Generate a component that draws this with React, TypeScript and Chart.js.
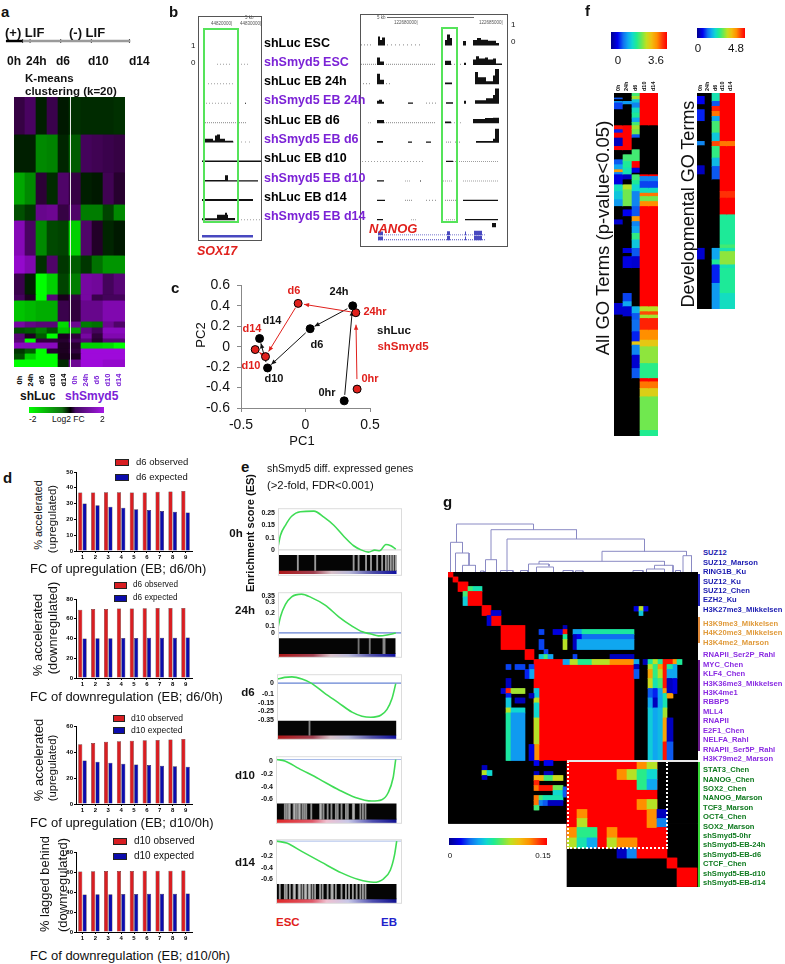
import React, { useEffect, useRef } from "react";
import { Chart, registerables } from "chart.js";
Chart.register(...registerables);

const FONT = '"Liberation Sans", Arial, sans-serif';
Chart.defaults.font.family = FONT;
Chart.defaults.color = "#000";

const BLACK = "#000000";
const PURPLE = "#7b22d6";
const LABEL_RED = "#e0201c";
const BAR_RED = "#d81e22";
const BAR_BLUE = "#0c0cac";

/* ---------- colour scales ---------- */
const JET_STOPS: [number, string][] = [
  [0, "#00008c"], [0.12, "#0000f0"], [0.22, "#1070f0"], [0.3, "#10a8f0"], [0.38, "#10d8d0"],
  [0.46, "#20ec90"], [0.55, "#70e850"], [0.63, "#c0e020"], [0.72, "#f0c010"], [0.82, "#ff9000"],
  [0.92, "#ff3808"], [1, "#ff0000"],
];
const GREEN_PURPLE_STOPS: [number, string][] = [
  [0, "#00ff00"], [0.44, "#107010"], [0.55, "#000000"], [0.62, "#400a60"], [1, "#a818e8"],
];
const RANK_STOPS: [number, string][] = [
  [0, "#b01818"], [0.3, "#a04050"], [0.45, "#d8c0c8"], [0.6, "#b8b8d8"], [0.8, "#5050a8"], [1, "#1010a0"],
];
const RANK_STOPS_LATE: [number, string][] = [
  [0, "#e02828"], [0.3, "#e05868"], [0.42, "#f0c0d0"], [0.6, "#c8c8e8"], [0.8, "#5050b0"], [1, "#101090"],
];
function hex(c: string) {
  return [1, 3, 5].map((i) => parseInt(c.slice(i, i + 2), 16));
}
function ramp(stops: [number, string][], t: number) {
  const v = Math.max(0, Math.min(1, t));
  for (let i = 1; i < stops.length; i++) {
    if (v <= stops[i][0]) {
      const [t0, c0] = stops[i - 1];
      const [t1, c1] = stops[i];
      const f = (v - t0) / (t1 - t0);
      const a = hex(c0), b = hex(c1);
      return `rgb(${a.map((x, k) => Math.round(x + (b[k] - x) * f)).join(",")})`;
    }
  }
  return stops[stops.length - 1][1];
}
const jet = (t: number | null) => (t === null ? BLACK : ramp(JET_STOPS, t));
function log2Colour(v: number) {
  if (v < 0) {
    const m = Math.min(1, -v / 2);
    return `rgb(0,${Math.round(20 + 235 * m)},0)`;
  }
  const m = Math.min(1, v / 1.5);
  return `rgb(${Math.round(20 + 148 * m)},${Math.round(20 * m * 0.6)},${Math.round(20 + 212 * m)})`;
}

/* ---------- panel a ---------- */
const timelineDark = [1, 19];
const timelineGrey = [19, 135];
const timelineStops = [19, 27, 60, 93, 134];
const aBandEnds = [38, 76, 108, 124, 159, 177, 198, 204, 225, 231, 237, 242, 246, 252, 257, 263, 270];
const aValues = [
  [0.35, 0.55, -0.1, 0.4, -0.05, -0.25, -0.2, -0.2, -0.2, -0.25],
  [-0.1, -0.1, -1.0, -0.95, -0.15, -0.6, 0.5, 0.45, 0.4, 0.35],
  [-1.25, -1.0, 0.25, -0.2, 0.6, 0.35, -0.1, -0.05, 0.45, 0.2],
  [-0.5, -0.3, 0.85, 0.9, 0.35, 0.6, -0.9, -0.9, -0.4, -1.0],
  [1.15, 0.55, -1.0, -0.45, -0.4, -1.6, 0.6, 0.15, -0.15, -0.05],
  [1.3, 1.1, -0.25, 0.6, -0.3, -0.6, -0.3, -0.8, -1.1, -1.1],
  [0.4, -0.1, -2, -1.6, -0.4, -0.9, 1.0, 0.95, 0.5, 0.7],
  [0.5, 0.1, -2, 0.7, 0.05, 0.35, 1.0, 0.4, 0.5, 0.5],
  [-1.5, -1.4, -1.3, -1.3, 0.4, 0.3, 0.85, 0.85, 1.1, 1.1],
  [1.0, 0.8, 0.7, 0.7, -1.7, 0.9, -0.9, -0.8, 0.9, 0.6],
  [-0.5, -0.6, -0.9, -0.5, -1.5, -1.2, 0.8, 0.5, 1.2, 1.2],
  [0.7, 0.1, -0.6, -2, 0.1, 0.3, 1, 0.3, 1.1, 1.1],
  [0.7, -2, 0.3, 0.3, 0.2, 0.5, 0.7, 0.2, 0.7, 0.7],
  [1.2, 1.2, 1.2, 1.2, 0.1, 0.2, -1.6, -1.6, -1.7, -2],
  [-0.3, -0.6, -2, 0.2, 0.1, 0.3, 1.4, 1.4, 1.4, 1.4],
  [-0.5, -1.6, -2, -2, 0.05, 0.1, 1.4, 1.4, 1.4, 1.4],
  [-2, -2, -2, -2, -0.2, 0.9, 1.4, 1.4, 1.3, 1.3],
];

/* ---------- panel b: [fromBin, toBin, signal, dashStep?] per track ---------- */
type Seg = number[];
const sox17Tracks: Seg[][] = [
  [],
  [[19, 34, 0.04, 3], [40, 52, 0.04, 3]],
  [[10, 35, 0.04, 3]],
  [[5, 35, 0.04, 3], [47, 48, 0.04]],
  [[5, 49, 0.05, 2]],
  [[5, 15, 0.2], [15, 17, 0.1], [17, 19, 0.4], [19, 22, 0.45], [22, 27, 0.2], [27, 35, 0.08], [35, 55, 0.04, 4]],
  [[4, 63, 0.06]],
  [[5, 27, 0.07], [27, 30, 0.35], [30, 60, 0.05]],
  [[4, 55, 0.09]],
  [[4, 19, 0.1], [19, 27, 0.3], [27, 29, 0.42], [29, 30, 0.3], [30, 37, 0.12], [40, 62, 0.04, 3]],
];
const nanogTracks: Seg[][] = [
  [[1, 13, 0.05, 3], [18, 20, 0.5], [20, 22, 0.3], [22, 25, 0.45], [27, 63, 0.05, 4], [85, 87, 0.3], [87, 90, 0.62], [90, 92, 0.42], [103, 106, 0.24], [113, 117, 0.3], [117, 121, 0.42], [121, 128, 0.32], [128, 136, 0.25], [136, 139, 0.12]],
  [[1, 17, 0.05, 2], [17, 20, 0.42], [20, 24, 0.18], [26, 76, 0.05, 2], [85, 91, 0.22], [91, 103, 0.04, 3], [104, 106, 0.1], [113, 116, 0.3], [116, 119, 0.48], [119, 125, 0.35], [125, 128, 0.42], [128, 133, 0.3], [133, 136, 0.35], [136, 142, 0.06]],
  [[3, 10, 0.05, 3], [17, 20, 0.6], [20, 24, 0.25], [26, 30, 0.05, 3], [85, 92, 0.08], [115, 118, 0.7], [118, 126, 0.4], [126, 133, 0.16], [133, 135, 0.5], [135, 139, 0.88]],
  [[17, 19, 0.15], [19, 22, 0.22], [22, 24, 0.1], [48, 53, 0.05], [66, 76, 0.05, 3], [86, 93, 0.06], [104, 106, 0.16], [115, 126, 0.18], [126, 133, 0.3], [133, 135, 0.5], [135, 139, 0.88]],
  [[8, 12, 0.04, 2], [17, 24, 0.16], [24, 76, 0.05, 2], [85, 91, 0.08], [91, 103, 0.04, 3], [113, 125, 0.22], [125, 133, 0.28], [133, 139, 0.3]],
  [[17, 23, 0.07], [48, 52, 0.05], [66, 71, 0.05], [86, 91, 0.04, 2], [95, 100, 0.04, 2], [116, 133, 0.07], [133, 135, 0.2], [135, 139, 0.8]],
  [[2, 63, 0.04, 3], [86, 93, 0.05], [93, 138, 0.04, 2]],
  [[17, 24, 0.05], [45, 50, 0.04, 2], [60, 61, 0.04], [83, 93, 0.04, 2], [103, 138, 0.04, 2]],
  [[17, 25, 0.05], [45, 53, 0.04, 2], [66, 76, 0.04, 3], [85, 96, 0.04, 2], [103, 138, 0.05]],
  [[17, 23, 0.05], [51, 56, 0.04, 2], [86, 96, 0.04, 2], [105, 138, 0.05]],
];
const sox17Gene: Seg[] = [[4, 55, 0.12]];
const nanogGene: Seg[] = [[18, 125, 0.03, 2], [18, 23, 0.2], [87, 90, 0.22], [105, 106, 0.2], [114, 122, 0.24]];
const nanogMark: Seg[] = [[132, 136, 0.22]];

/* ---------- panel c ---------- */
const luc = [
  { x: 0.3, y: -0.53 }, { x: 0.366, y: 0.4 }, { x: 0.036, y: 0.176 }, { x: -0.294, y: -0.208 }, { x: -0.356, y: 0.08 },
];
const smyd = [
  { x: 0.4, y: -0.415 }, { x: 0.39, y: 0.333 }, { x: -0.057, y: 0.424 }, { x: -0.31, y: -0.097 }, { x: -0.39, y: -0.028 },
];

/* ---------- panel d ---------- */
const fcBins = ["1", "2", "3", "4", "5", "6", "7", "8", "9"];
const d6UpObserved = [37, 37, 37.2, 37.2, 37, 37, 37.5, 37.7, 38];
const d6UpExpected = [30, 29, 28, 27.3, 26.5, 26, 25.3, 24.8, 24.3];
const d6DownObserved = [69, 70, 70, 70.5, 70.5, 70.7, 71, 71, 71];
const d6DownExpected = [40, 40.3, 40.3, 40.5, 40.5, 40.7, 40.7, 40.8, 41];
const d10UpObserved = [46, 47, 47.8, 48.3, 48.7, 49, 49.3, 49.7, 50];
const d10UpExpected = [33.5, 32.5, 31.7, 31, 30.4, 30, 29.5, 29, 28.6];
const d10DownObserved = [60.5, 60.7, 61, 61, 61, 61.2, 61.2, 61.2, 61.5];
const d10DownExpected = [37.5, 37.7, 37.8, 38, 38, 38.2, 38.2, 38.3, 38.5];

/* ---------- panel e ---------- */
const es0hRank = [0, 2, 6, 11, 18, 29, 37, 45, 53, 61, 67, 73, 78, 82, 87, 91, 95];
const es0h = [0.02, 0.1, 0.167, 0.228, 0.259, 0.263, 0.222, 0.167, 0.093, 0.028, 0, -0.015, -0.002, -0.006, 0.037, 0.028, 0.006];
const es24hRank = [0, 2, 6, 11, 19, 27, 38, 49, 60, 68, 75, 81, 88, 95];
const es24h = [0.049, 0.152, 0.268, 0.34, 0.365, 0.332, 0.262, 0.152, 0.062, 0.01, -0.01, -0.028, -0.02, 0];
const esD6Rank = [0.5, 6, 12, 20, 28, 38, 49, 60, 68, 75, 83, 88, 92, 95];
const esD6 = [0.038, 0.054, 0.059, 0.038, -0.005, -0.095, -0.184, -0.274, -0.312, -0.322, -0.304, -0.248, -0.146, -0.005];
const esD10Rank = [0.5, 7, 18, 34, 50, 63, 76, 84, 89, 93, 95];
const esD10 = [0, -0.021, -0.134, -0.294, -0.462, -0.576, -0.63, -0.609, -0.504, -0.273, 0];
const esD14Rank = [0.5, 8.5, 20.4, 36, 52, 65.5, 77.5, 85.4, 90.7, 94, 95.8];
const esD14 = [0, -0.03, -0.16, -0.328, -0.496, -0.6, -0.643, -0.588, -0.454, -0.223, 0];
const hits0h = [16, 30, 61, 65, 71, 75, 80, 84, 87, 89, 91, 93, 95];
const hits24h = [65, 74, 85, 86];
const hitsD6 = [26];
const hitsD10 = [7, 8.5, 10, 11, 14, 15, 16.5, 18, 19, 21, 22.5, 24, 28, 35, 36, 37.7, 41, 44, 47.5, 49, 52, 55.5, 57, 61, 62, 67, 69, 71];
const hitsD14 = [3, 7, 8.5, 11, 14, 15, 18, 19, 21, 23, 24, 26, 27, 29, 31, 35, 37, 41, 44, 45, 47.5, 52, 55.5, 58, 61, 64, 67, 69, 71];
const tick0h = [0.25, 0.167, 0.083, 0];
const tick0hText = ["0.25", "0.15", "0.1", "0"];
const tick24h = [0.35, 0.288, 0.19, 0.069, 0];
const tick24hText = ["0.35", "0.3", "0.2", "0.1", "0"];
const tickD6 = [0, -0.1, -0.184, -0.266, -0.35];
const tickD6Text = ["0", "-0.1", "-0.15", "-0.25", "-0.35"];
const tickD10 = [-0.03, -0.223, -0.412, -0.6];
const tickLateText = ["0", "-0.2", "-0.4", "-0.6"];

/* ---------- panel f: [end row, level] per column, null = no enrichment ---------- */
type Run = [number, number | null];
const allGo0h: Run[] = [[15, null], [20, 0.2], [25, null], [30, 0.28], [50, 0.18], [98, null], [110, 0.98], [120, 0.15], [135, 1], [160, 0.06], [172, 1], [200, null], [215, 0.2], [230, 0.3], [238, 0.8], [245, 0.25], [275, 0.1], [295, 0.4], [320, 0.35], [340, 0.28], [380, null], [395, 0.08], [630, null], [665, 0.08], [1027, null]];
const allGo24h: Run[] = [[25, null], [35, 0.28], [98, null], [172, 1], [185, null], [205, 0.5], [225, 0.45], [245, 0.42], [260, 0.06], [275, null], [290, 0.62], [340, 0.55], [350, null], [370, 0.12], [465, null], [480, 0.1], [490, null], [525, 0.1], [600, null], [625, 0.18], [640, 0.3], [670, 0.08], [1027, null]];
const allGoD6: Run[] = [[10, 0.5], [20, 0.6], [30, 0.35], [45, 0.25], [60, 0.4], [75, 0.45], [88, 0.3], [98, 0.5], [110, 0.6], [125, 0.55], [135, 0.2], [170, null], [205, 0.5], [225, 1], [240, 0.1], [245, null], [262, 0.5], [275, 0.45], [295, 0.38], [340, 0.25], [370, 0.2], [385, 0.8], [400, 0.25], [420, 0.3], [440, 0.48], [465, 0.35], [490, 0.2], [525, 0.08], [640, null], [660, 0.32], [680, 0.2], [715, 0.22], [745, 0.15], [755, 0.7], [785, 0.25], [825, 0.08], [855, 0.2], [1027, null]];
const allGoLate: Run[] = [[98, 1], [245, null], [250, 1], [265, 0.25], [285, 0.18], [300, 0.4], [310, 0.85], [325, 0.55], [340, 0.82], [640, 1], [655, 0.62], [665, 0.9], [675, 0.6], [710, 0.95], [740, 0.82], [760, 0.7], [810, 0.58], [855, 0.47], [865, 1], [885, 0.85], [910, 0.68], [1010, 0.55], [1027, 0.46]];
const devGo0h: Run[] = [[10, null], [35, 0.12], [50, null], [85, 0.15], [145, null], [158, 0.25], [218, null], [245, 0.06], [465, null], [500, 0.08], [647, null]];
const devGo24h: Run[] = [[647, null]];
const devGoD6: Run[] = [[25, 0.42], [40, 0.2], [55, 0.95], [70, 0.85], [85, 0.3], [120, 0.5], [145, 0.35], [160, 0.9], [195, 0.48], [220, 0.33], [260, 0.2], [465, null], [500, 0.3], [515, 0.45], [570, 0.15], [647, 0.28]];
const devGoLate: Run[] = [[145, 1], [160, 0.85], [295, 1], [315, 0.93], [365, 1], [455, 0.45], [465, 0.5], [475, 0.42], [515, 0.58], [525, 0.42], [600, 0.45], [647, 0.4]];

/* ---------- panel g: [col from, col to, row from, row to, level] ---------- */
type GCell = [number, number, number, number, number | null];
const R = 1;
const gCells: GCell[] = [
  [0, 50, 0, 50.3, null], [23.7, 50, 50.3, 63, null],
  [0, 1, 0, 1, R], [1, 2, 1, 2, R], [2, 3.9, 2, 3.9, R],
  [3.9, 4.9, 2.9, 3.9, 0.5], [4.9, 6.7, 2.9, 3.9, 0.42], [2.9, 3.9, 3.9, 5, 0.5], [2.9, 3.9, 5, 6.7, 0.36],
  [3.9, 6.7, 3.9, 6.7, R], [6.7, 8.6, 6.7, 8.7, R], [8.6, 10.5, 8.7, 10.7, R], [8.6, 10.5, 7.7, 8.7, 0.08], [7.7, 8.6, 8.7, 10.7, 0.08],
  [10.5, 15.3, 10.7, 15.5, R], [15.3, 17.1, 15.5, 17.5, R],
  [37.1, 38.2, 6.9, 7.8, 0.1], [39, 40, 6.9, 7.8, 0.1], [38.2, 39, 6.9, 7.8, 0.62], [38.2, 39, 7.8, 8.7, 0.35],
  [18.2, 19.1, 11.5, 12.5, 0.18], [18.2, 19.1, 13.5, 15.5, 0.18], [22.9, 23.8, 10.7, 11.5, 0.05], [21, 22.9, 11.5, 12.5, 0.1], [22.9, 23.8, 11.5, 12.5, 0.97],
  [22.9, 23.8, 12.5, 13.5, 0.45], [22.9, 23.8, 13.5, 15.5, 0.62], [24.9, 26.7, 11.5, 12.5, 0.3], [26.7, 37.1, 11.5, 12.5, 0.44],
  [24.9, 25.7, 12.5, 15.5, 0.06], [25.7, 26.7, 12.5, 13.5, 0.12], [25.7, 26.7, 13.5, 15.5, 0.3], [26.7, 37.1, 12.5, 13.5, 0.22], [26.7, 37.1, 13.5, 15.5, 0.3],
  [19.1, 20, 15.5, 16.5, 0.18], [18.2, 19.1, 16.5, 17.5, 0.35], [19.1, 20, 16.5, 17.5, 0.5], [20, 21, 16.5, 17.5, 0.3], [24.9, 25.7, 16.5, 17.5, 0.18], [32.3, 37.1, 16.5, 17.5, 0.06],
  [17.1, 37.1, 17.5, 37.7, R],
  [23, 24.3, 17.5, 18.5, 0.3], [24.3, 26, 17.5, 18.5, 0.62], [26, 28.7, 17.5, 18.5, 0.46], [28.7, 32.3, 17.5, 18.5, 0.62], [32.3, 37.1, 17.5, 18.5, 0.82],
  [17.1, 18.2, 23.3, 25.2, 0.35], [17.1, 18.2, 25.2, 26.2, 0.62], [17.1, 18.2, 26.2, 29.2, 0.38], [17.1, 18.2, 29.2, 34.5, 0.62], [17.1, 18.2, 34.5, 37.7, 0.82],
  [16.2, 17.1, 18.5, 19.5, 0.18], [16.2, 17.1, 19.5, 21.3, 0.3], [15.3, 16.2, 19.5, 21.3, 0.15], [16.2, 17.1, 24.3, 25.2, 0.05], [16.2, 17.1, 34.5, 37.7, 0.1],
  [11.5, 12.5, 18.5, 19.5, 0.18], [13.3, 15.3, 18.5, 19.5, 0.18], [11.5, 12.5, 21.3, 23.3, 0.06], [10.5, 11.5, 23.3, 24.3, 0.08], [11.5, 12.5, 23.3, 24.3, 0.95], [12.5, 15.3, 23.3, 24.3, 0.6],
  [11.5, 12.5, 24.3, 25.2, 0.15], [11.5, 12.5, 25.2, 27.2, 0.35], [11.5, 12.5, 27.2, 28.2, 0.62], [11.5, 12.5, 28.2, 37.7, 0.44], [13.3, 15.3, 25.2, 26.2, 0.06], [12.5, 15.3, 27.2, 28.2, 0.38], [12.5, 15.3, 28.2, 37.7, 0.28],
  [37.1, 38.2, 17.5, 18.5, 0.3], [39, 40, 17.5, 18.5, 0.05], [40, 41, 17.5, 18.5, 0.45], [41, 42, 17.5, 18.5, 0.62], [42, 43, 17.5, 18.5, 0.45], [43, 44.9, 17.5, 18.5, 0.97], [44.9, 45.7, 17.5, 18.5, 0.8], [45.7, 46.7, 17.5, 18.5, 0.45],
  [37.1, 38.2, 18.5, 19.5, 0.06], [37.1, 38.2, 19.5, 21.3, 0.2],
  [40, 41, 18.5, 19.5, 0.62], [40, 41, 19.5, 21.3, 0.78], [40, 41, 21.3, 23.3, 0.65], [40, 41, 23.3, 25.2, 0.2], [40, 41, 25.2, 27.2, 0.3], [40, 41, 27.2, 37.7, 0.36],
  [41, 42, 18.5, 21.3, 0.48], [41, 42, 21.3, 23.3, 0.42], [41, 42, 23.3, 25.2, 0.15], [41, 42, 25.2, 27.2, 0.06], [41, 42, 27.2, 37.7, 0.3],
  [42, 43, 18.5, 19.5, 0.8], [42, 43, 19.5, 21.3, 0.62], [42, 43, 21.3, 23.3, 0.5], [42, 43, 23.3, 27.2, 0.3], [42, 43, 27.2, 37.7, 0.33],
  [43, 43.8, 18.5, 23.3, 0.97], [43, 43.8, 23.3, 24.3, 0.8], [43, 43.8, 24.3, 27.2, 0.42], [43, 43.8, 27.2, 29.2, 0.6], [43, 43.8, 29.2, 34, 0.78], [43, 43.8, 34, 37.7, 0.97],
  [43.8, 44.9, 18.5, 19.5, 0.45], [43.8, 44.9, 19.5, 21.3, 0.3], [43.8, 44.9, 21.3, 24.3, 0.06], [43.8, 44.9, 24.3, 25.2, 0.8], [43.8, 44.9, 29.2, 34, 0.06], [43.8, 44.9, 34, 37.7, 0.2],
  [44.9, 45.7, 18.5, 21.3, 0.3], [44.9, 45.7, 21.3, 24.3, 0.1],
  [6.7, 7.7, 38.7, 39.7, 0.06], [6.7, 7.7, 39.7, 40.7, 0.62], [7.7, 8.7, 39.7, 40.7, 0.38], [6.7, 7.7, 40.7, 41.5, 0.06],
  [17.1, 18.2, 37.7, 38.7, 0.12], [19.1, 20.9, 37.7, 38.7, 0.12], [17.1, 18.2, 39.9, 40.7, 0.06], [19.1, 20.9, 39.9, 40.7, 0.06],
  [17.1, 19.1, 40.7, 41.7, 0.75], [19.1, 21, 40.7, 41.7, 0.5], [21, 23, 40.7, 41.7, 0.65],
  [17.1, 18.2, 41.7, 42.7, 0.95],
  [17.1, 18.2, 42.7, 43.7, 0.85], [18.2, 21, 42.7, 43.7, 0.97], [21, 23, 42.7, 43.7, 0.55], [21, 23, 43.7, 44.7, 0.38],
  [17.1, 18.2, 44.7, 45.7, 0.85], [18.2, 19, 44.7, 45.7, 0.5], [19, 23, 44.7, 45.7, 0.42],
  [17.1, 18.2, 45.7, 46.7, 0.85], [18.2, 19, 45.7, 46.7, 0.25], [19, 20, 45.7, 46.7, 0.2], [20, 23, 45.7, 46.7, 0.06], [17.1, 18.2, 46.7, 47.6, 0.5], [23, 23.7, 43, 45, 0.2],
  [23.7, 41.7, 37.7, 55.2, R],
  [37.7, 39.7, 37.7, 39.5, 0.82], [39.7, 41.7, 37.7, 39.5, 0.62],
  [33.7, 35.7, 39.5, 41.5, 0.82], [35.7, 37.7, 39.5, 41.5, 0.62], [37.7, 39.7, 39.5, 43.5, 0.47], [39.7, 41.7, 39.5, 41.5, 0.38], [39.7, 41.7, 41.5, 43.5, 0.3],
  [37.7, 39.7, 45.5, 47.5, 0.82], [39.7, 41.7, 45.5, 47.5, 0.62], [39.7, 41.7, 47.5, 51.1, 0.82],
  [41.7, 43.7, 47.5, 49.3, 0.06], [41.7, 43.7, 49.3, 51.1, 0.25], [41.7, 43.7, 51.1, 55.2, R],
  [25.7, 27.7, 47.5, 49.3, 0.82], [25.7, 27.7, 49.3, 51.1, 0.62],
  [23.7, 25.7, 51.1, 53.2, 0.82], [25.7, 29.7, 51.1, 53.2, 0.47], [31.7, 33.7, 51.1, 53.2, 0.82],
  [23.7, 25.7, 53.2, 55.2, 0.62], [25.7, 27.7, 53.2, 55.2, 0.42], [27.7, 29.7, 53.2, 55.2, 0.3], [31.7, 33.7, 53.2, 55.2, 0.62], [33.7, 37.7, 53.2, 55.2, 0.82],
  [33.7, 35.7, 55.2, 57.2, 0.06], [35.7, 37.7, 55.2, 57.2, 0.25], [37.7, 43.7, 55.2, 57.2, R],
  [43.7, 45.7, 57.2, 59.2, R], [45.7, 49.7, 59.2, 62.9, R],
];
const dendroBranches: number[][][] = [
  [[1.7, 29.7], [1.7, 48], [17.1, 48], [17.1, 42.3]],
  [[0.5, 0], [0.5, 29.7], [2.9, 29.7], [2.9, 19]],
  [[1.5, 0], [1.5, 19], [4.2, 19], [4.2, 6.7]],
  [[2.9, 0], [2.9, 6.7], [5.5, 6.7], [5.5, 0]],
  [[8.6, 12.3], [8.6, 42.3], [25.7, 42.3], [25.7, 33]],
  [[7.5, 0], [7.5, 12.3], [9.7, 12.3], [9.7, 0]],
  [[11.8, 0], [11.8, 33], [39.3, 33], [39.3, 20.7]],
  [[30.8, 10.7], [30.8, 20.7], [47.7, 20.7], [47.7, 16.3]],
  [[47, 0], [47, 16.3], [48.7, 16.3], [48.7, 0]],
  [[16.1, 0], [16.1, 8], [20.2, 8], [20.2, 5.7]],
  [[18.2, 8], [18.2, 10.7], [43.3, 10.7], [43.3, 6.7]],
  [[17.7, 0], [17.7, 5], [21.1, 5], [21.1, 0]],
  [[39.7, 0], [39.7, 3], [43.3, 3], [43.3, 0]],
  [[41.3, 3], [41.3, 6.7], [45, 6.7], [45, 0]],
  [[10.5, 0], [10.5, 1.5], [13, 1.5], [13, 0]],
  [[14.5, 0], [14.5, 1.5], [16, 1.5], [16, 0]],
  [[23, 0], [23, 1.5], [25, 1.5], [25, 0]],
  [[25.5, 0], [25.5, 1.2], [27, 1.2], [27, 0]],
  [[37, 0], [37, 1.5], [39, 1.5], [39, 0]],
  [[45.5, 0], [45.5, 1.5], [46.5, 1.5], [46.5, 0]],
  [[6.5, 0], [6.5, 1], [7.2, 1], [7.2, 0]],
];

/* ---------- text ---------- */
type L = { t: string; x: number; y: number; s: number; b?: boolean; i?: boolean; c?: string; a?: "l" | "c" | "r" | "v" | "vb" };
const panelLetters: L[] = [
  { t: "a", x: 1, y: 11, s: 15, b: true }, { t: "b", x: 169, y: 11, s: 15, b: true }, { t: "c", x: 171, y: 287, s: 15, b: true },
  { t: "d", x: 3, y: 477, s: 15, b: true }, { t: "e", x: 241, y: 466, s: 15, b: true }, { t: "f", x: 585, y: 10, s: 15, b: true }, { t: "g", x: 443, y: 501, s: 15, b: true },
];
const aLabels: L[] = [
  { t: "(+) LIF", x: 5, y: 32, s: 13, b: true }, { t: "(-) LIF", x: 69, y: 32, s: 13, b: true },
  { t: "0h", x: 7, y: 61, s: 12, b: true }, { t: "24h", x: 26, y: 61, s: 12, b: true }, { t: "d6", x: 56, y: 61, s: 12, b: true }, { t: "d10", x: 88, y: 61, s: 12, b: true }, { t: "d14", x: 129, y: 61, s: 12, b: true },
  { t: "K-means", x: 25, y: 79, s: 11.5, b: true }, { t: "clustering (k=20)", x: 25, y: 92, s: 11.5, b: true },
  { t: "shLuc", x: 20, y: 396, s: 12, b: true }, { t: "shSmyd5", x: 65, y: 396, s: 12, b: true, c: PURPLE },
  { t: "-2", x: 29, y: 419, s: 8.5 }, { t: "Log2 FC", x: 52, y: 419, s: 8.5 }, { t: "2", x: 100, y: 419, s: 8.5 },
  ...["0h", "24h", "d6", "d10", "d14", "0h", "24h", "d6", "d10", "d14"].map((t, i): L => ({ t, x: 19.5 + i * 11.1, y: 380, s: 7.5, b: true, a: "v", c: i < 5 ? BLACK : PURPLE })),
];
const trackNames = ["shLuc ESC", "shSmyd5 ESC", "shLuc EB 24h", "shSmyd5 EB 24h", "shLuc EB d6", "shSmyd5 EB d6", "shLuc EB d10", "shSmyd5 EB d10", "shLuc EB d14", "shSmyd5 EB d14"];
const bLabels: L[] = [
  ...trackNames.map((t, i): L => ({ t, x: 264, y: 42.5 + i * 19.3, s: 12.5, b: true, c: i % 2 ? PURPLE : BLACK })),
  { t: "1", x: 191, y: 46, s: 8 }, { t: "0", x: 191, y: 63, s: 8 }, { t: "1", x: 511, y: 25, s: 8 }, { t: "0", x: 511, y: 42, s: 8 },
  { t: "SOX17", x: 197, y: 251, s: 12.5, b: true, i: true, c: LABEL_RED }, { t: "NANOG", x: 369, y: 228, s: 13, b: true, i: true, c: LABEL_RED },
  { t: "5 kb", x: 245, y: 18, s: 4.5, c: "#555" }, { t: "44820000|", x: 211, y: 24, s: 4.5, c: "#555" }, { t: "44830000|", x: 240, y: 24, s: 4.5, c: "#555" },
  { t: "5 kb", x: 377, y: 18, s: 4.5, c: "#555" }, { t: "122680000|", x: 394, y: 23, s: 4.5, c: "#555" }, { t: "122685000|", x: 479, y: 23, s: 4.5, c: "#555" },
];
const cLabels: L[] = [
  { t: "d6", x: 294, y: 290, s: 11, b: true, c: LABEL_RED, a: "c" }, { t: "24h", x: 339, y: 291, s: 11, b: true, a: "c" }, { t: "24hr", x: 375, y: 311, s: 11, b: true, c: LABEL_RED, a: "c" },
  { t: "d14", x: 272, y: 320, s: 11, b: true, a: "c" }, { t: "d14", x: 252, y: 328, s: 11, b: true, c: LABEL_RED, a: "c" }, { t: "shLuc", x: 394, y: 331, s: 11.5, b: true, a: "c" },
  { t: "shSmyd5", x: 403, y: 347, s: 11.5, b: true, c: LABEL_RED, a: "c" }, { t: "d6", x: 317, y: 344, s: 11, b: true, a: "c" }, { t: "d10", x: 251, y: 365, s: 11, b: true, c: LABEL_RED, a: "c" },
  { t: "d10", x: 274, y: 378, s: 11, b: true, a: "c" }, { t: "0hr", x: 370, y: 378, s: 11, b: true, c: LABEL_RED, a: "c" }, { t: "0hr", x: 327, y: 392, s: 11, b: true, a: "c" },
  { t: "PC1", x: 302, y: 440, s: 13, a: "c" }, { t: "PC2", x: 200, y: 335, s: 13, a: "v" },
];
const dLabels: L[] = [
  { t: "% accelerated", x: 38, y: 515, s: 11, a: "v" }, { t: "(upregulated)", x: 53, y: 519, s: 11.5, a: "v" }, { t: "FC of upregulation (EB; d6/0h)", x: 30, y: 568, s: 13 },
  { t: "% accelerated", x: 37, y: 635, s: 13, a: "v" }, { t: "(downregulated)", x: 53, y: 628, s: 12.8, a: "v" }, { t: "FC of downregulation (EB; d6/0h)", x: 30, y: 696, s: 13 },
  { t: "% accelerated", x: 38, y: 760, s: 13, a: "v" }, { t: "(upregulated)", x: 53, y: 768, s: 11.2, a: "v" }, { t: "FC of upregulation (EB; d10/0h)", x: 30, y: 822, s: 13 },
  { t: "% lagged behind", x: 45, y: 884, s: 12.9, a: "v" }, { t: "(downregulated)", x: 62, y: 885, s: 13, a: "v" }, { t: "FC of downregulation (EB; d10/0h)", x: 30, y: 955, s: 13 },
  { t: "d6 observed", x: 136, y: 462, s: 9.5 }, { t: "d6 expected", x: 136, y: 477, s: 9.5 },
  { t: "d6 observed", x: 133, y: 585, s: 8.2 }, { t: "d6 expected", x: 133, y: 598, s: 8.2 },
  { t: "d10 observed", x: 131, y: 718, s: 8.6 }, { t: "d10 expected", x: 131, y: 730, s: 8.6 },
  { t: "d10 observed", x: 134, y: 841, s: 10 }, { t: "d10 expected", x: 134, y: 856, s: 10 },
];
const dSwatches = [
  { x: 115, w: 14, ys: [462, 477] }, { x: 114, w: 13, ys: [585, 598] }, { x: 113, w: 12, ys: [718, 730] }, { x: 113, w: 14, ys: [841, 856] },
];
const eLabels: L[] = [
  { t: "shSmyd5 diff. expressed genes", x: 267, y: 468, s: 10.5 }, { t: "(>2-fold, FDR<0.001)", x: 267, y: 486, s: 11.3 },
  { t: "Enrichment score (ES)", x: 250, y: 533, s: 11, b: true, a: "v" },
  { t: "0h", x: 236, y: 534, s: 11.5, b: true, a: "c" }, { t: "24h", x: 245, y: 611, s: 11.5, b: true, a: "c" }, { t: "d6", x: 248, y: 693, s: 11.5, b: true, a: "c" },
  { t: "d10", x: 245, y: 776, s: 11.5, b: true, a: "c" }, { t: "d14", x: 245, y: 863, s: 11.5, b: true, a: "c" },
  { t: "ESC", x: 276, y: 923, s: 11.5, b: true, c: LABEL_RED }, { t: "EB", x: 381, y: 923, s: 11.5, b: true, c: "#2222cc" },
];
const runLabels = ["0h", "24h", "d6", "d10", "d14"];
const fLabels: L[] = [
  { t: "0", x: 618, y: 61, s: 11.5, a: "c" }, { t: "3.6", x: 656, y: 61, s: 11.5, a: "c" }, { t: "0", x: 698, y: 49, s: 11.5, a: "c" }, { t: "4.8", x: 736, y: 49, s: 11.5, a: "c" },
  { t: "All GO Terms (p-value<0.05)", x: 603, y: 238, s: 18.5, a: "v" }, { t: "Developmental GO Terms", x: 688, y: 204, s: 18, a: "v" },
  ...runLabels.map((t, i): L => ({ t, x: 618.5 + i * 8.8, y: 91, s: 5.5, b: true, a: "vb" })),
  ...runLabels.map((t, i): L => ({ t, x: 700.8 + i * 7.55, y: 91, s: 5.5, b: true, a: "vb" })),
];
const gBlue = ["SUZ12", "SUZ12_Marson", "RING1B_Ku", "SUZ12_Ku", "SUZ12_Chen", "EZH2_Ku", "H3K27me3_Mikkelsen"];
const gBlueY = [553, 563, 572, 582, 591, 600, 610];
const gOrange = ["H3K9me3_Mikkelsen", "H4K20me3_Mikkelsen", "H3K4me2_Marson"];
const gOrangeY = [624, 633, 643];
const gPurple = ["RNAPII_Ser2P_Rahl", "MYC_Chen", "KLF4_Chen", "H3K36me3_Mikkelsen", "H3K4me1", "RBBP5", "MLL4", "RNAPII", "E2F1_Chen", "NELFA_Rahl", "RNAPII_Ser5P_Rahl", "H3K79me2_Marson"];
const gPurpleY = [655, 665, 674, 684, 693, 702, 712, 721, 731, 740, 750, 759];
const gGreen = ["STAT3_Chen", "NANOG_Chen", "SOX2_Chen", "NANOG_Marson", "TCF3_Marson", "OCT4_Chen", "SOX2_Marson", "shSmyd5-0hr", "shSmyd5-EB-24h", "shSmyd5-EB-d6", "CTCF_Chen", "shSmyd5-EB-d10", "shSmyd5-EB-d14"];
const gGreenY = [770, 780, 789, 798, 808, 817, 827, 836, 845, 855, 864, 874, 883];
const gLabel = (names: string[], ys: number[], c: string): L[] => names.map((t, i) => ({ t, x: 703, y: ys[i], s: 7.6, b: true, c }));
const gLabels: L[] = [
  ...gLabel(gBlue, gBlueY, "#1a1ab0"), ...gLabel(gOrange, gOrangeY, "#e09a3a"), ...gLabel(gPurple, gPurpleY, "#8a2be2"), ...gLabel(gGreen, gGreenY, "#0f7a1f"),
  { t: "0", x: 450, y: 856, s: 8, a: "c" }, { t: "0.15", x: 543, y: 856, s: 8, a: "c" },
];
const allLabels = [...panelLetters, ...aLabels, ...bLabels, ...cLabels, ...dLabels, ...eLabels, ...fLabels, ...gLabels];

/* ---------- chart builders ---------- */
const baseOptions = {
  responsive: false,
  maintainAspectRatio: false,
  animation: false as const,
  devicePixelRatio: 1,
  plugins: { legend: { display: false }, tooltip: { enabled: false } },
  layout: { padding: 0 },
};
const hidden = { display: false };

type Px = { x0: number; x1: number; r0: number; r1: number; color: string };
function heatConfig(width: number, rows: number, cells: Px[]) {
  const labels = Array.from({ length: width }, (_, i) => String(i));
  // Chart.js paints the first dataset last, so later cells go first to stay on top.
  const datasets = cells.map((c) => {
    const data: any[] = [];
    for (let x = c.x0; x < c.x1; x++) data.push({ x: String(x), y: [c.r0, c.r1] });
    return { data, backgroundColor: c.color, grouped: false, barPercentage: 1, categoryPercentage: 1, borderWidth: 0 };
  }).reverse();
  return {
    type: "bar",
    data: { labels, datasets },
    options: {
      ...baseOptions,
      scales: { x: { ...hidden, type: "category" }, y: { ...hidden, min: 0, max: rows, reverse: true } },
    },
  };
}
function columnsHeat(edges: number[], columns: Run[][], rows: number) {
  const cells: Px[] = [];
  columns.forEach((runs, i) => {
    let r0 = 0;
    runs.forEach(([end, level]) => {
      cells.push({ x0: edges[i], x1: edges[i + 1], r0, r1: end, color: jet(level) });
      r0 = end;
    });
  });
  return heatConfig(edges[edges.length - 1], rows, cells);
}
function aHeat() {
  const edges = [0, 11, 22, 33, 44, 55, 67, 78, 89, 100, 111];
  const cells: Px[] = [];
  let r0 = 0;
  aBandEnds.forEach((end, b) => {
    aValues[b].forEach((v, i) => cells.push({ x0: edges[i], x1: edges[i + 1], r0, r1: end, color: log2Colour(v) }));
    r0 = end;
  });
  return heatConfig(111, 270, cells);
}
function gHeat() {
  const cells = gCells.map(([c0, c1, r0, r1, v]) => ({ x0: Math.round(c0 * 5), x1: Math.round(c1 * 5), r0, r1, color: jet(v) }));
  return heatConfig(250, 63, cells);
}
function gradientFill(stops: [number, string][]) {
  return (ctx: any) => {
    const a = ctx.chart.chartArea;
    if (!a) return "#000";
    const g = ctx.chart.ctx.createLinearGradient(a.left, 0, a.right, 0);
    stops.forEach(([t, c]) => g.addColorStop(t, c));
    return g;
  };
}
function colorBar(stops: [number, string][]) {
  return {
    type: "bar",
    data: { labels: ["scale"], datasets: [{ data: [1], backgroundColor: gradientFill(stops), barPercentage: 1, categoryPercentage: 1 }] },
    options: { ...baseOptions, scales: { x: hidden, y: { ...hidden, min: 0, max: 1 } } },
  };
}
function timeline() {
  const line = (xs: number[], c: string) => ({ data: xs.map((x) => ({ x, y: 0 })), borderColor: c, borderWidth: 2.5, pointRadius: 0 });
  return {
    type: "line",
    data: {
      datasets: [
        line(timelineDark, "#000"),
        line(timelineGrey, "#9a9a9a"),
        { data: timelineStops.map((x) => ({ x, y: 3 })), showLine: false, pointStyle: "line", rotation: 90, pointRadius: 3, pointBorderColor: "#333", pointBorderWidth: 1 },
      ],
    },
    options: { ...baseOptions, scales: { x: { ...hidden, type: "linear", min: 0, max: 140 }, y: { ...hidden, min: -7, max: 7, reverse: true } } },
  };
}
function trackConfig(width: number, tracks: Seg[][], rowMin: number, rowMax: number, extra: { row: number; segs: Seg[]; color: string }[]) {
  const labels = Array.from({ length: width }, (_, i) => String(i));
  const unit = 0.875;
  const datasets: any[] = [];
  const push = (row: number, segs: Seg[], color: string, dashColor: string) => {
    const solid: any[] = [];
    const dash: any[] = [];
    segs.forEach(([a, b, s, step]) => {
      for (let x = a; x < b; x += step || 1) (step ? dash : solid).push({ x: String(x), y: [row + 0.02, row - s * unit] });
    });
    const common = { grouped: false, barPercentage: 1, categoryPercentage: 1, borderWidth: 0, inflateAmount: 0 };
    if (solid.length) datasets.push({ ...common, data: solid, backgroundColor: color });
    if (dash.length) datasets.push({ ...common, data: dash, backgroundColor: dashColor });
  };
  tracks.forEach((segs, i) => push(i, segs, "#111", "rgba(40,40,40,0.45)"));
  extra.forEach((e) => push(e.row, e.segs, e.color, e.color));
  return {
    type: "bar",
    data: { labels, datasets },
    options: { ...baseOptions, scales: { x: { ...hidden, type: "category" }, y: { ...hidden, min: rowMin, max: rowMax, reverse: true } } },
  };
}
const arrowPlugin = {
  id: "pcaArrows",
  beforeDatasetsDraw(chart: any) {
    const { ctx, scales } = chart;
    const draw = (pts: { x: number; y: number }[], color: string, trims: number[][]) => {
      ctx.save();
      ctx.strokeStyle = color;
      ctx.fillStyle = color;
      ctx.lineWidth = 1;
      for (let i = 0; i < pts.length - 1; i++) {
        const ax = scales.x.getPixelForValue(pts[i].x), ay = scales.y.getPixelForValue(pts[i].y);
        const bx = scales.x.getPixelForValue(pts[i + 1].x), by = scales.y.getPixelForValue(pts[i + 1].y);
        const len = Math.hypot(bx - ax, by - ay), ux = (bx - ax) / len, uy = (by - ay) / len;
        const sx = ax + ux * trims[i][0], sy = ay + uy * trims[i][0];
        const tx = bx - ux * trims[i][1], ty = by - uy * trims[i][1];
        ctx.beginPath(); ctx.moveTo(sx, sy); ctx.lineTo(tx, ty); ctx.stroke();
        ctx.beginPath(); ctx.moveTo(tx, ty);
        ctx.lineTo(tx - ux * 5 - uy * 2.2, ty - uy * 5 + ux * 2.2);
        ctx.lineTo(tx - ux * 5 + uy * 2.2, ty - uy * 5 - ux * 2.2);
        ctx.closePath(); ctx.fill();
      }
      ctx.restore();
    };
    draw(luc, "#111", [[6, 5], [6, 5], [6, 5], [6, 5]]);
    draw(smyd, LABEL_RED, [[10, 12], [5, 6], [5, 6], [5, 5]]);
  },
};
function pcaConfig() {
  const axis = (min: number, max: number, step: number, pad: number, width?: number, height?: number) => ({
    type: "linear", min, max,
    ticks: { stepSize: step, font: { size: 14 }, color: "#111", padding: pad },
    grid: { drawOnChartArea: false, tickLength: 4, color: "#888" },
    border: { color: "#888" },
    afterFit: (s: any) => { if (width) s.width = width; if (height) s.height = height; },
  });
  const series = (data: any[], fill: string) => ({ data, backgroundColor: fill, borderColor: "#000", borderWidth: 1, pointRadius: 4, clip: false });
  return {
    type: "scatter",
    data: { datasets: [series(luc, "#000"), series(smyd, LABEL_RED)] },
    options: {
      ...baseOptions,
      layout: { padding: { top: 11, right: 15, left: 0, bottom: 0 } },
      scales: { x: axis(-0.5, 0.5, 0.5, 5, undefined, 22), y: axis(-0.6, 0.6, 0.2, 7, 41) },
    },
    plugins: [arrowPlugin],
  };
}
function fcConfig(observed: number[], expected: number[], max: number, step: number) {
  const bar = (data: number[], c: string) => ({ data, backgroundColor: c, borderColor: "#301010", borderWidth: 0.5, barPercentage: 0.94, categoryPercentage: 0.68 });
  const tickFont = { size: 6, weight: "bold" as const };
  return {
    type: "bar",
    data: { labels: fcBins, datasets: [bar(observed, BAR_RED), bar(expected, BAR_BLUE)] },
    options: {
      ...baseOptions,
      layout: { padding: { top: 6, right: 8, left: 0, bottom: 0 } },
      scales: {
        x: {
          ticks: { font: tickFont, color: "#000", padding: 1, maxRotation: 0 },
          grid: { offset: false, drawOnChartArea: false, tickLength: 2, color: "#000" },
          border: { color: "#000" },
          afterFit: (s: any) => { s.height = 11; },
        },
        y: {
          min: 0, max,
          ticks: { stepSize: step, font: tickFont, color: "#000", padding: 1 },
          grid: { drawOnChartArea: false, tickLength: 2, color: "#000" },
          border: { color: "#000" },
          afterFit: (s: any) => { s.width = 30; },
        },
      },
    },
  };
}
const framePlugin = {
  id: "frame",
  afterDraw(chart: any) {
    const a = chart.chartArea;
    const c = chart.ctx;
    c.save();
    c.strokeStyle = "#dcdcdc";
    c.lineWidth = 1;
    c.strokeRect(a.left + 0.5, a.top + 0.5, a.right - a.left - 1, a.bottom - a.top - 1);
    c.restore();
  },
};
type Es = {
  rank: number[]; es: number[]; hits: number[]; ticks: number[]; text: string[]; min: number; max: number;
  strip: number[]; band: number[]; stripEnd: number; width: number; zero: string; hitColor: string; stops: [number, string][];
};
function gradientFillPart(stops: [number, string][], pct: number) {
  return (ctx: any) => {
    const a = ctx.chart.chartArea;
    if (!a) return "#000";
    const g = ctx.chart.ctx.createLinearGradient(a.left, 0, a.left + (a.right - a.left) * pct / 100, 0);
    stops.forEach(([t, c]) => g.addColorStop(t, c));
    return g;
  };
}
function esConfig(p: Es) {
  const thick = Math.round(p.width * p.stripEnd / 100);
  const common = { type: "bar", grouped: false, borderWidth: 0 };
  const mid = p.stripEnd / 2;
  return {
    type: "bar",
    data: {
      datasets: [
        { type: "line", data: p.rank.map((x, i) => ({ x, y: p.es[i] })), borderColor: "#3fdc55", borderWidth: 1.6, pointRadius: 0, cubicInterpolationMode: "monotone", order: 0 },
        { type: "line", data: [{ x: 0, y: 0 }, { x: 100, y: 0 }], borderColor: p.zero, borderWidth: 1, pointRadius: 0, order: 1 },
        { ...common, data: p.hits.map((x) => ({ x, y: p.strip })), backgroundColor: p.hitColor, barThickness: 1.2, order: 2 },
        { ...common, data: [{ x: mid, y: p.strip }], backgroundColor: "#050505", barThickness: thick, order: 3 },
        { ...common, data: [{ x: mid, y: p.band }], backgroundColor: gradientFillPart(p.stops, p.stripEnd), barThickness: thick, order: 3 },
      ],
    },
    options: {
      ...baseOptions,
      scales: {
        x: { ...hidden, type: "linear", min: 0, max: 100, offset: false },
        y: {
          type: "linear", min: p.min, max: p.max,
          grid: { display: false, drawTicks: false },
          border: { display: false },
          ticks: {
            autoSkip: false, font: { size: 7, weight: "bold" as const }, color: "#111", padding: 3,
            callback: (_: any, i: number) => p.text[i],
          },
          afterBuildTicks: (s: any) => { s.ticks = p.ticks.map((value) => ({ value })); },
          afterFit: (s: any) => { s.width = 32; },
        },
      },
    },
    plugins: [framePlugin],
  };
}
function dendroConfig() {
  return {
    type: "scatter",
    data: {
      datasets: dendroBranches.map((b) => ({
        data: b.map(([x, y]) => ({ x, y })), showLine: true, pointRadius: 0, borderColor: "#8a8ac4", borderWidth: 1,
      })),
    },
    options: { ...baseOptions, scales: { x: { ...hidden, type: "linear", min: 0, max: 50 }, y: { ...hidden, type: "linear", min: 0, max: 50 } } },
  };
}

/* ---------- components ---------- */
function Plot({ x, y, w, h, make }: { x: number; y: number; w: number; h: number; make: () => any }) {
  const ref = useRef<HTMLCanvasElement>(null);
  useEffect(() => {
    const chart = new Chart(ref.current as HTMLCanvasElement, make());
    return () => chart.destroy();
  }, []);
  return <canvas ref={ref} width={w} height={h} style={{ position: "absolute", left: x, top: y, width: w, height: h, display: "block" }} />;
}
function Label({ l }: { l: L }) {
  const vertical = l.a === "v" || l.a === "vb";
  const transform = vertical
    ? `translate(-50%,${l.a === "vb" ? "-100%" : "-50%"}) rotate(180deg)`
    : l.a === "c" ? "translate(-50%,-50%)" : "translate(0,-50%)";
  return (
    <span style={{
      position: "absolute", left: l.x, top: l.y, fontSize: l.s, lineHeight: 1, whiteSpace: "nowrap", fontFamily: FONT,
      fontWeight: l.b ? 700 : 400, fontStyle: l.i ? "italic" : "normal", color: l.c || "#111", transform,
      writingMode: vertical ? "vertical-rl" : undefined,
    }}>{l.t}</span>
  );
}
function Box({ x, y, w, h, style }: { x: number; y: number; w: number; h: number; style: React.CSSProperties }) {
  return <div style={{ position: "absolute", left: x, top: y, width: w, height: h, boxSizing: "border-box", ...style }} />;
}

const esPanels: { x: number; y: number; w: number; h: number; p: Es }[] = [
  { x: 278, y: 501, w: 124, h: 82, p: { rank: es0hRank, es: es0h, hits: hits0h, ticks: tick0h, text: tick0hText, min: -0.176, max: 0.283, strip: [-0.037, -0.139], band: [-0.139, -0.161], stripEnd: 95.5, width: 124, zero: "#d0d0d0", hitColor: "rgba(255,255,255,0.6)", stops: RANK_STOPS } },
  { x: 278, y: 585, w: 124, h: 80, p: { rank: es24hRank, es: es24h, hits: hits24h, ticks: tick24h, text: tick24hText, min: -0.234, max: 0.383, strip: [-0.054, -0.195], band: [-0.195, -0.226], stripEnd: 94.6, width: 124, zero: "#3f63c8", hitColor: "rgba(255,255,255,0.45)", stops: RANK_STOPS } },
  { x: 277, y: 667, w: 125, h: 80, p: { rank: esD6Rank, es: esD6, hits: hitsD6, ticks: tickD6, text: tickD6Text, min: -0.535, max: 0.084, strip: [-0.358, -0.491], band: [-0.491, -0.529], stripEnd: 95, width: 125, zero: "#3f63c8", hitColor: "rgba(255,255,255,0.5)", stops: RANK_STOPS } },
  { x: 276, y: 749, w: 126, h: 82, p: { rank: esD10Rank, es: esD10, hits: hitsD10, ticks: tickD10, text: tickLateText, min: -0.975, max: 0.05, strip: [-0.672, -0.903], band: [-0.903, -0.962], stripEnd: 95.5, width: 126, zero: "#a8bcea", hitColor: "rgba(255,255,255,0.55)", stops: RANK_STOPS_LATE } },
  { x: 276, y: 832, w: 126, h: 79, p: { rank: esD14Rank, es: esD14, hits: hitsD14, ticks: [-0.034, -0.227, -0.416, -0.6], text: tickLateText, min: -0.979, max: 0.03, strip: [-0.676, -0.903], band: [-0.903, -0.966], stripEnd: 95.5, width: 126, zero: "#a8bcea", hitColor: "rgba(255,255,255,0.6)", stops: RANK_STOPS_LATE } },
];

export default function App() {
  return (
    <div style={{ position: "absolute", left: 0, top: 0, width: 785, height: 964, overflow: "hidden", background: "#fff" }}>
      {/* a */}
      <Plot x={0} y={34} w={140} h={14} make={timeline} />
      <Plot x={14} y={97} w={111} h={270} make={aHeat} />
      <Box x={69.5} y={97} w={1.5} h={270} style={{ background: "#e8e8e8" }} />
      <Plot x={29} y={407} w={75} h={6} make={() => colorBar(GREEN_PURPLE_STOPS)} />

      {/* b */}
      <Box x={198} y={16} w={64} h={225} style={{ border: "1px solid #555" }} />
      <Box x={360} y={14} w={148} h={233} style={{ border: "1px solid #555" }} />
      <Plot x={198} y={16} w={63} h={224} make={() => trackConfig(63, sox17Tracks, -1.49, 10.03, [{ row: 9.88, segs: sox17Gene, color: "#4848c0" }])} />
      <Plot x={360} y={14} w={147} h={232} make={() => trackConfig(147, nanogTracks, -1.6, 10.34, [{ row: 9.77, segs: nanogGene, color: "#4848c0" }, { row: 10.02, segs: nanogGene, color: "#4848c0" }, { row: 9.35, segs: nanogMark, color: "#111" }])} />
      <Box x={203} y={28} w={36} h={195} style={{ border: "2px solid #55e35a" }} />
      <Box x={441} y={27} w={17} h={196} style={{ border: "2px solid #55e35a" }} />
      <Box x={387} y={17} w={87} h={1} style={{ background: "#666" }} />

      {/* c */}
      <Plot x={200} y={270} w={185} h={160} make={pcaConfig} />

      {/* d */}
      <Plot x={46} y={466} w={154} h={96} make={() => fcConfig(d6UpObserved, d6UpExpected, 50, 10)} />
      <Plot x={46} y={593} w={154} h={96} make={() => fcConfig(d6DownObserved, d6DownExpected, 80, 20)} />
      <Plot x={46} y={720} w={154} h={95} make={() => fcConfig(d10UpObserved, d10UpExpected, 60, 20)} />
      <Plot x={46} y={846} w={154} h={97} make={() => fcConfig(d10DownObserved, d10DownExpected, 80, 20)} />
      {dSwatches.map((s, i) => s.ys.map((y, k) => (
        <Box key={`${i}-${k}`} x={s.x} y={y - 3.5} w={s.w} h={7} style={{ background: k ? BAR_BLUE : BAR_RED, border: "0.5px solid #222" }} />
      )))}

      {/* e */}
      {esPanels.map((e, i) => (
        <Plot key={i} x={e.x - 32} y={e.y} w={e.w + 32} h={e.h} make={() => esConfig(e.p)} />
      ))}

      {/* f */}
      <Plot x={611} y={32} w={56} h={17} make={() => colorBar(JET_STOPS)} />
      <Plot x={697} y={28} w={48} h={10} make={() => colorBar(JET_STOPS)} />
      <Plot x={614} y={93} w={44} h={343} make={() => columnsHeat([0, 9, 18, 26, 35, 44], [allGo0h, allGo24h, allGoD6, allGoLate, allGoLate], 1027)} />
      <Plot x={697} y={93} w={38} h={216} make={() => columnsHeat([0, 8, 15, 23, 30, 38], [devGo0h, devGo24h, devGoD6, devGoLate, devGoLate], 647)} />

      {/* g */}
      <Plot x={448} y={522} w={250} h={50} make={dendroConfig} />
      <Plot x={448} y={572} w={250} h={315} make={gHeat} />
      <Box x={567} y={761} w={100.5} h={87.5} style={{ borderLeft: "2px dotted #fff", borderRight: "2px dotted #fff", borderBottom: "2px dotted #fff" }} />
      <Box x={567} y={760} w={131} h={2} style={{ background: "#e8e8e8" }} />
      <Box x={698} y={574} w={2} h={32} style={{ background: "#2222b8" }} />
      <Box x={698} y={617} w={2} h={26} style={{ background: "#e08a3a" }} />
      <Box x={698} y={660} w={2} h={91} style={{ background: "#6a1b8a" }} />
      <Box x={698} y={762} w={2} h={125} style={{ background: "#38d838" }} />
      <Plot x={449} y={838} w={98} h={7} make={() => colorBar(JET_STOPS)} />

      {allLabels.map((l, i) => <Label key={i} l={l} />)}
    </div>
  );
}
